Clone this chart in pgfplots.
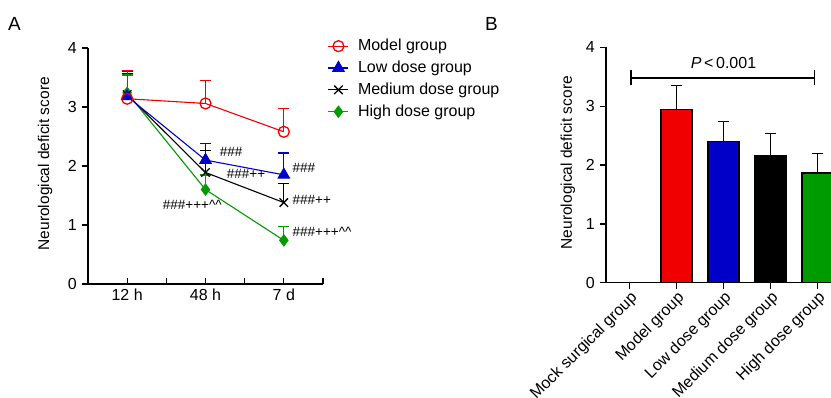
\documentclass[border=0pt]{standalone}
\usepackage{pgfplots}
\pgfplotsset{compat=1.18}
\usepackage{fontspec}
\setmainfont{Liberation Sans}
\setsansfont{Liberation Sans}
\definecolor{cred}{RGB}{240,0,0}
\definecolor{cblue}{RGB}{0,0,200}
\definecolor{cgreen}{RGB}{0,155,0}
\pgfplotsset{
  common/.style={
    scale only axis, anchor=south west,
    axis lines*=left, axis line style={line width=1.3bp, black},
    tick style={line width=1.3bp, black},
    major tick length=6bp,
    xtick align=inside, ytick align=outside,
    ymin=0, ymax=4, ytick={0,1,2,3,4},
    /pgf/number format/assume math mode=true,
    tick label style={font=\fontsize{16bp}{19bp}\selectfont},
    label style={font=\fontsize{15.5bp}{18bp}\selectfont},
    clip=false,
  },
  ebar/.style={error bars/.cd, y dir=plus, y explicit,
    error bar style={line width=1.3bp, #1},
    error mark options={rotate=90, mark size=5.5bp, line width=1.3bp, #1}},
}
\begin{document}
\fontsize{15bp}{18bp}\selectfont
\begin{tikzpicture}[font=\fontsize{15bp}{18bp}\selectfont]
\useasboundingbox (0,0) rectangle (831bp,-398bp);
\clip (0,0) rectangle (831bp,-398bp);
\node[anchor=base west, inner sep=0pt, font=\fontsize{19bp}{22bp}\selectfont] at (8bp,-30bp) {A};
\node[anchor=base west, inner sep=0pt, font=\fontsize{19bp}{22bp}\selectfont] at (485bp,-30bp) {B};

\begin{axis}[common,
  at={(88bp,-284bp)}, width=235bp, height=236bp,
  xmin=-0.5, xmax=2.5,
  xtick={0,1,2}, xticklabels={12 h,48 h,7 d},
  extra x ticks={0.5,1.5,2.5}, extra x tick labels={},
  ylabel={Neurological deficit score},
  ylabel style={at={(axis description cs:-0.183,0.51)}, anchor=center},
  legend style={at={(axis description cs:1.02,1.038)}, anchor=north west,
    draw=none, fill=none, font=\fontsize{16bp}{19bp}\selectfont,
    row sep=8bp, inner sep=0pt, nodes={inner sep=0pt}},
  legend cell align=left,
  reverse legend,
  legend image code/.code={\draw[mark repeat=2,mark phase=2] plot coordinates {(0bp,0bp)(10bp,0bp)(20bp,0bp)}; \path (29bp,0bp);},
]
\addplot[cgreen, line width=1.1bp, mark=diamond*, mark size=5.5bp, ebar=cgreen]
  coordinates {(0,3.24) +- (0,0.3) (1,1.60) +- (0,0.25) (2,0.74) +- (0,0.24)};
\addlegendentry{High dose group}
\addplot[black, line width=1.1bp, mark=x, mark size=6bp, mark options={line width=1.3bp}, ebar=black]
  coordinates {(0,3.21) +- (0,0.36) (1,1.89) +- (0,0.37) (2,1.38) +- (0,0.32)};
\addlegendentry{Medium dose group}
\addplot[cblue, line width=1.1bp, mark=triangle*, mark size=6.5bp, ebar=cblue]
  coordinates {(0,3.18) +- (0,0.42) (1,2.10) +- (0,0.28) (2,1.85) +- (0,0.37)};
\addlegendentry{Low dose group}
\addplot[cred, line width=1.1bp, mark=o, mark size=5.5bp, mark options={line width=1.3bp, fill=white}, ebar=cred]
  coordinates {(0,3.14) +- (0,0.475) (1,3.06) +- (0,0.39) (2,2.58) +- (0,0.39)};
\addlegendentry{Model group}
\node[anchor=west, inner sep=0pt, font=\fontsize{13.5bp}{16bp}\selectfont] at (axis cs:1.18,2.24) {\#\#\#};
\node[anchor=west, inner sep=0pt, font=\fontsize{13.5bp}{16bp}\selectfont] at (axis cs:1.27,1.86) {\#\#\#++};
\node[anchor=east, inner sep=0pt, font=\fontsize{13.5bp}{16bp}\selectfont] at (axis cs:1.21,1.34) {\#\#\#+++\textasciicircum\textasciicircum};
\node[anchor=west, inner sep=0pt, font=\fontsize{13.5bp}{16bp}\selectfont] at (axis cs:2.11,1.96) {\#\#\#};
\node[anchor=west, inner sep=0pt, font=\fontsize{13.5bp}{16bp}\selectfont] at (axis cs:2.11,1.43) {\#\#\#++};
\node[anchor=west, inner sep=0pt, font=\fontsize{13.5bp}{16bp}\selectfont] at (axis cs:2.11,0.88) {\#\#\#+++\textasciicircum\textasciicircum};
\end{axis}

\begin{axis}[common,
  at={(606bp,-282.7bp)}, width=235bp, height=235.4bp,
  xmin=-0.5, xmax=4.5,
  ybar, bar width=31bp,
  xtick={0,1,2,3,4},
  xticklabels={Mock surgical group,Model group,Low dose group,Medium dose group,High dose group},
  xticklabel style={rotate=45, anchor=north east, inner sep=1bp},
  ylabel={Neurological deficit score},
  ylabel style={at={(axis description cs:-0.162,0.51)}, anchor=center},
]
\addplot[fill=cred, draw=black, line width=1.5bp, bar shift=0pt, ebar=black]
  coordinates {(1,2.94) +- (0,0.41)};
\addplot[fill=cblue, draw=black, line width=1.5bp, bar shift=0pt, ebar=black]
  coordinates {(2,2.40) +- (0,0.34)};
\addplot[fill=black, draw=black, line width=1.5bp, bar shift=0pt, ebar=black]
  coordinates {(3,2.16) +- (0,0.38)};
\addplot[fill=cgreen, draw=black, line width=1.5bp, bar shift=0pt, ebar=black]
  coordinates {(4,1.86) +- (0,0.33)};
\draw[line width=1.3bp] (axis cs:0.03,3.48) -- (axis cs:3.94,3.48);
\draw[line width=1.3bp] (axis cs:0.03,3.36) -- (axis cs:0.03,3.61);
\draw[line width=1.3bp] (axis cs:3.94,3.36) -- (axis cs:3.94,3.61);
\node[font=\fontsize{16bp}{19bp}\selectfont] at (axis cs:2.0,3.74) {\textit{P}\,<\,0.001};
\end{axis}
\end{tikzpicture}
\end{document}
